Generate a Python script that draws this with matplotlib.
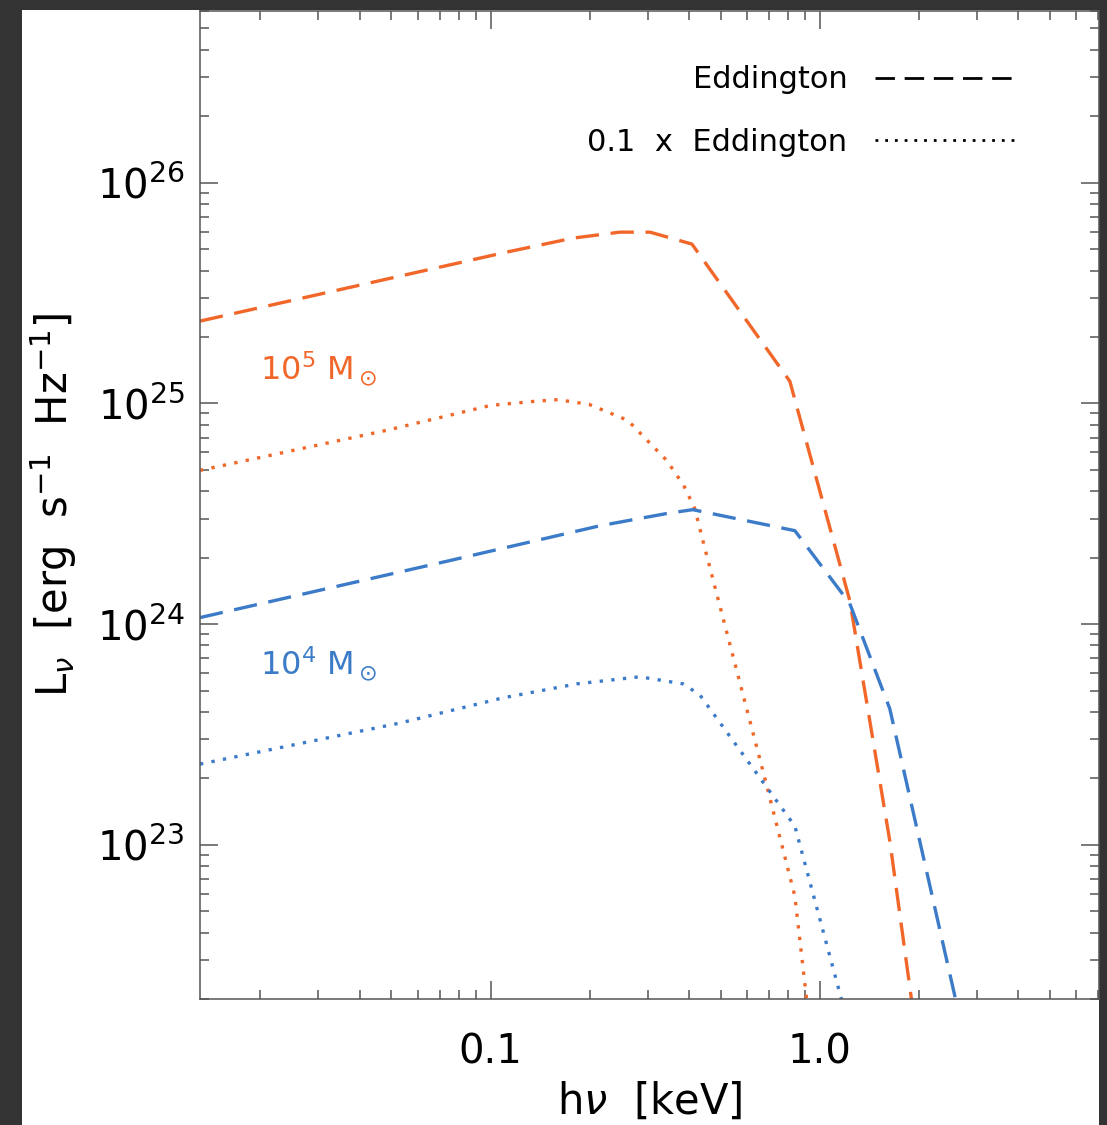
# Disk spectra of accreting black holes: L_nu vs h nu, Eddington and 0.1 Eddington.

import numpy as np
import matplotlib
matplotlib.use('Agg')
import matplotlib.pyplot as plt
from matplotlib.patches import Rectangle
from matplotlib.ticker import FixedLocator, FuncFormatter, LogLocator, NullFormatter

plt.rcParams['font.family'] = ['DejaVu Sans']
plt.rcParams['mathtext.fontset'] = 'dejavusans'

## DATA ###########################################
# 1e5 Msun, Eddington
e5_edd_E = [0.0131, 0.112, 0.178, 0.247, 0.305, 0.409, 0.811, 1.233, 1.632, 1.903]
e5_edd_L = [2.36e25, 4.85e25, 5.61e25, 5.97e25, 5.97e25, 5.27e25, 1.26e25, 1.28e24, 1.04e23, 1.95e22]
# 1e5 Msun, 0.1 Eddington
e5_01_E = [0.0131, 0.0481, 0.100, 0.134, 0.160, 0.199, 0.261, 0.343, 0.386, 0.417, 0.447, 0.681, 0.840, 0.913]
e5_01_L = [4.97e24, 7.54e24, 9.79e24, 1.02e25, 1.04e25, 9.9e24, 8.38e24, 5.51e24, 4.25e24, 3.34e24,
           2.22e24, 2.0e23, 5.85e22, 1.97e22]
# 1e4 Msun, Eddington
e4_edd_E = [0.0131, 0.0752, 0.215, 0.343, 0.411, 0.840, 1.233, 1.632, 2.59]
e4_edd_L = [1.07e24, 1.94e24, 2.79e24, 3.17e24, 3.30e24, 2.65e24, 1.24e24, 4.13e23, 1.97e22]
# 1e4 Msun, 0.1 Eddington
e4_01_E = [0.0131, 0.053, 0.109, 0.183, 0.284, 0.384, 0.432, 0.840, 1.166]
e4_01_L = [2.32e23, 3.56e23, 4.63e23, 5.36e23, 5.77e23, 5.36e23, 4.78e23, 1.215e23, 1.97e22]

xticks = [0.1, 1.0]
xticklabels = ['0.1', '1.0']
yticks = [1e23, 1e24, 1e25, 1e26]
##################################################

orange = '#F1672A'
blue = '#3C7BC8'
axcol = '#555555'
dash = (0, (7, 3.5))
dot = (0, (1, 2.5))

fig = plt.figure(figsize=(11.07, 11.25), dpi=100, facecolor='#333333')
fig.patches.append(Rectangle((22 / 1107., 0), (1099 - 22) / 1107., (1125 - 10) / 1125.,
                             transform=fig.transFigure, facecolor='white', edgecolor='none', zorder=-10))

ax = fig.add_axes([200 / 1107., 126 / 1125., 899 / 1107., 988 / 1125.])
ax.set_facecolor('white')
ax.set_xscale('log')
ax.set_yscale('log')

ax.plot(e5_edd_E, e5_edd_L, color=orange, lw=2.4, linestyle=dash)
ax.plot(e5_01_E, e5_01_L, color=orange, lw=2.4, linestyle=dot)
ax.plot(e4_edd_E, e4_edd_L, color=blue, lw=2.4, linestyle=dash)
ax.plot(e4_01_E, e4_01_L, color=blue, lw=2.4, linestyle=dot)

# legend handles in black
h1, = ax.plot([], [], color='black', lw=2.0, linestyle=dash)
h2, = ax.plot([], [], color='black', lw=2.0, linestyle=dot)
leg = ax.legend([h1, h2], ['Eddington', '0.1  x  Eddington'], loc='upper right',
                bbox_to_anchor=(0.907, 0.945), frameon=False, markerfirst=False,
                fontsize=22, handlelength=4.6, handletextpad=0.9, labelspacing=1.1,
                borderaxespad=0, borderpad=0)

ax.text(0.0667, 0.6265, r'$10^5\ \mathrm{M}_\odot$', color=orange, fontsize=23, transform=ax.transAxes)
ax.text(0.0667, 0.328, r'$10^4\ \mathrm{M}_\odot$', color=blue, fontsize=23, transform=ax.transAxes)

ax.set_xlim(0.0131, 7.05)
ax.set_ylim(2e22, 6e26)

ax.xaxis.set_major_locator(FixedLocator(xticks))
ax.xaxis.set_major_formatter(FuncFormatter(lambda v, p: xticklabels[xticks.index(v)] if v in xticks else ''))
ax.xaxis.set_minor_locator(LogLocator(base=10, subs=np.arange(2, 10)))
ax.xaxis.set_minor_formatter(NullFormatter())
ax.yaxis.set_major_locator(FixedLocator(yticks))
ax.yaxis.set_major_formatter(FuncFormatter(lambda v, p: r'$10^{%d}$' % round(np.log10(v))))
ax.yaxis.set_minor_locator(LogLocator(base=10, subs=np.arange(2, 10)))
ax.yaxis.set_minor_formatter(NullFormatter())

ax.tick_params(which='both', direction='in', top=True, right=True, color=axcol, width=1.1)
ax.tick_params(which='major', length=13, labelsize=29, pad=11)
ax.tick_params(which='minor', length=6.5)
ax.tick_params(axis='x', which='major', pad=24)
for s in ax.spines.values():
    s.set_color(axcol)
    s.set_linewidth(1.1)

ax.set_xlabel(r'h$\nu$  [keV]', fontsize=30, labelpad=6)
ax.set_ylabel(r'L$_\nu$  [erg  s$^{-1}$  Hz$^{-1}$]', fontsize=30, labelpad=13)

fig.savefig('out.png', dpi=100, facecolor=fig.get_facecolor())
